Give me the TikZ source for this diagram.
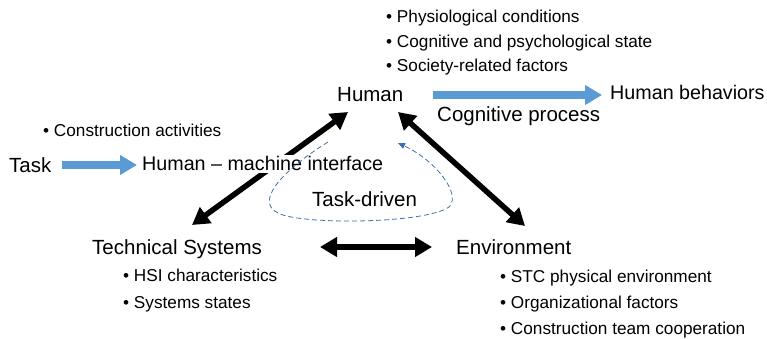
\documentclass[tikz,border=0pt]{standalone}
\usepackage{fontspec}
\setmainfont{Liberation Sans}
\usetikzlibrary{arrows.meta}
\definecolor{flowblue}{HTML}{5B9BD5}
\definecolor{dashblue}{HTML}{3F6FAA}
\tikzset{
  txt/.style={anchor=base west, inner sep=0pt, font=\fontsize{20.5}{24}\selectfont},
  txtn/.style={anchor=base west, inner sep=0pt, font=\fontsize{19.7}{24}\selectfont},
  bul/.style={anchor=base west, inner sep=0pt, font=\fontsize{17.2}{20}\selectfont},
  flow/.style={draw=flowblue, line width=8.5pt, -{Triangle[length=17pt,width=19pt]}, color=flowblue},
  link/.style={line width=5.5pt, {Triangle[length=17pt,width=19pt]}-{Triangle[length=17pt,width=19pt]}},
  loop/.style={draw=dashblue, line width=0.8pt, dash pattern=on 5pt off 3pt, -{Triangle[length=7pt,width=6pt]}}
}
\begin{document}
\begin{tikzpicture}[x=1pt,y=-1pt]
\useasboundingbox (0,0) rectangle (767,339);
% connector end points
\coordinate (lA) at (192,225);
\coordinate (lB) at (348,112);
\coordinate (rA) at (398,112);
\coordinate (rB) at (525,226);
\coordinate (hA) at (320,247);
\coordinate (hB) at (432,247);
\coordinate (cpA) at (433,95);
\coordinate (cpB) at (602,95);
\coordinate (tkA) at (62,165);
\coordinate (tkB) at (137,165);
\coordinate (dA) at (328,142);
\coordinate (dB) at (398,143);
% black links
\draw[link] (lA) -- (lB);
\draw[link] (rA) -- (rB);
\draw[link] (hA) -- (hB);
% blue flows
\draw[flow] (cpA) -- (cpB);
\draw[flow] (tkA) -- (tkB);
% texts
\node[bul] (b1) at (386,23) {• Physiological conditions};
\node[bul] (b2) at (386,48) {• Cognitive and psychological state};
\node[bul] (b3) at (386,72) {• Society-related factors};
\node[txt] (human) at (337,102) {Human};
\node[txtn] (hb) at (610,100) {Human behaviors};
\node[txt] (cp) at (437,122) {Cognitive process};
\node[bul] (ca) at (43,137) {• Construction activities};
\node[txt] (task) at (9,172) {Task};
\node[txtn, fill=white, inner sep=2pt] (hmi) at (140,171) {Human – machine interface};
\node[txt] (td) at (312,206) {Task-driven};
\node[txt] (ts) at (92,254) {Technical Systems};
\node[bul] (hsi) at (123,281) {• HSI characteristics};
\node[bul] (ss) at (123,308) {• Systems states};
\node[txt] (env) at (456,254) {Environment};
\node[bul] (stc) at (500,282) {• STC physical environment};
\node[bul] (org) at (500,308) {• Organizational factors};
\node[bul] (ctc) at (500,334) {• Construction team cooperation};
% dashed task-driven loop
\draw[loop] (dA) .. controls (280,172) and (255,202) .. (278,213)
  .. controls (300,225) and (425,224) .. (449,207)
  .. controls (462,194) and (435,160) .. (dB);
\end{tikzpicture}
\end{document}
